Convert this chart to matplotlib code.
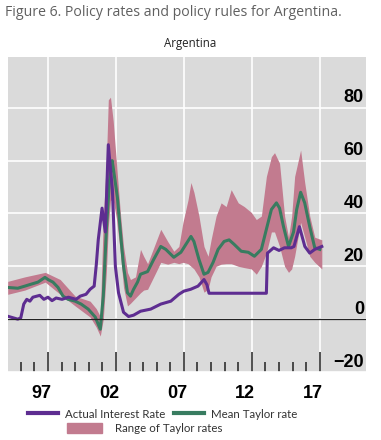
# policy rates vs Taylor rules, Argentina

import numpy as np
import matplotlib.pyplot as plt
import matplotlib.transforms as mtransforms

# actual interest rate (purple)
actual_year = [1994.04, 1994.78, 1995.0, 1995.22, 1995.44, 1995.67, 1995.89, 1996.4, 1996.7,
               1997.0, 1997.3, 1997.6, 1998.04, 1998.5, 1999.07, 1999.37, 1999.8, 2000.1,
               2000.4, 2000.56, 2000.7, 2000.98, 2001.22, 2001.44, 2001.74, 2001.96, 2002.19,
               2002.56, 2002.93, 2003.3, 2003.81, 2004.56, 2005.3, 2006.04, 2006.63, 2007.0,
               2007.5, 2008.04, 2008.48, 2008.7, 2008.85, 2013.07, 2013.15, 2013.6, 2014.0,
               2014.4, 2014.9, 2015.1, 2015.5, 2015.9, 2016.26, 2016.63, 2017.15]
actual_rate = [1.1, 0.0, 0.5, 5.7, 7.5, 6.8, 8.3, 9.0, 7.5,
               8.3, 7.0, 8.0, 7.5, 8.3, 7.5, 8.7, 9.4, 11.3,
               12.5, 20.8, 30.0, 42.0, 33.0, 66.0, 49.0, 20.0, 10.0,
               2.6, 1.0, 1.5, 3.0, 3.8, 5.7, 6.8, 9.4, 10.6,
               11.3, 12.5, 15.0, 13.0, 9.8, 9.8, 25.0, 27.0, 26.0,
               27.0, 27.0, 27.5, 35.0, 27.5, 25.0, 26.4, 27.5]

# mean taylor rate (green)
mean_year = [1994.04, 1994.78, 1995.3, 1995.74, 1996.26, 1996.78, 1997.0, 1997.37, 1997.74,
             1998.11, 1998.48, 1999.0, 1999.44, 1999.96, 2000.48, 2000.85, 2001.07, 2001.3,
             2001.52, 2001.72, 2001.81, 2002.11, 2002.33, 2002.56, 2002.85, 2003.07, 2003.3,
             2003.59, 2003.81, 2004.33, 2004.78, 2005.3, 2005.67, 2006.26, 2006.78, 2007.15,
             2007.52, 2007.74, 2008.11, 2008.48, 2008.78, 2009.15, 2009.52, 2009.96, 2010.33,
             2010.7, 2011.22, 2011.74, 2012.19, 2012.7, 2013.07, 2013.44, 2013.81, 2014.04,
             2014.33, 2014.7, 2015.07, 2015.3, 2015.59, 2015.89, 2016.26, 2016.63, 2017.0]
mean_rate = [12.0, 11.7, 12.5, 13.2, 14.0, 15.8, 15.0, 14.0, 12.0,
             8.7, 7.5, 6.8, 5.7, 3.8, 0.8, -3.8, 8.7, 34.0,
             52.0, 60.0, 57.0, 46.0, 33.0, 20.0, 10.0, 8.7, 11.3,
             14.0, 17.0, 18.0, 22.6, 27.5, 26.4, 23.4, 25.3, 28.3,
             31.3, 29.4, 22.6, 17.0, 17.7, 21.5, 26.4, 29.4, 30.0,
             28.3, 25.7, 25.3, 23.8, 26.4, 34.0, 41.5, 44.0, 42.0,
             35.0, 27.5, 33.0, 41.5, 48.0, 44.0, 35.0, 27.0, 26.4]

# range of taylor rates (pink band)
range_year = [1994.04, 1995.3, 1996.8, 1997.9, 1999.0, 2000.1, 2000.55, 2000.85, 2001.07,
              2001.3, 2001.44, 2001.6, 2001.8, 2002.04, 2002.33, 2002.56, 2002.85, 2003.07,
              2003.44, 2003.81, 2004.04, 2004.33, 2004.78, 2005.3, 2005.81, 2006.26, 2006.63,
              2006.93, 2007.3, 2007.52, 2007.74, 2008.11, 2008.48, 2008.78, 2009.0, 2009.37,
              2009.74, 2010.11, 2010.48, 2011.0, 2011.44, 2011.96, 2012.33, 2012.7, 2013.07,
              2013.44, 2013.67, 2014.04, 2014.41, 2014.7, 2014.93, 2015.15, 2015.59, 2015.89,
              2016.26, 2016.63, 2017.15]
range_high = [14.3, 16.0, 17.7, 15.0, 8.7, 6.8, 4.0, 1.0, 38.0,
              60.0, 83.0, 84.0, 75.0, 59.0, 40.0, 27.5, 17.7, 15.0,
              16.0, 26.4, 23.8, 21.0, 27.0, 34.0, 29.4, 25.7, 27.5,
              36.6, 45.0, 51.7, 48.0, 39.0, 27.5, 23.8, 30.0, 39.0,
              44.0, 42.6, 49.0, 44.0, 42.6, 40.4, 37.7, 39.0, 54.0,
              61.5, 63.0, 59.0, 39.0, 31.0, 39.0, 54.0, 64.0, 51.7,
              39.0, 31.0, 30.0]
range_low = [9.4, 11.0, 14.0, 9.4, 5.0, 0.8, -3.0, -6.4, 0.0,
             18.0, 35.0, 45.0, 45.0, 38.0, 25.0, 12.0, 5.0, 6.0,
             8.0, 10.0, 11.0, 11.3, 16.0, 21.5, 20.8, 21.5, 21.0,
             21.5, 21.0, 20.0, 19.0, 16.0, 10.2, 11.3, 16.0, 20.0,
             20.8, 21.0, 21.0, 20.0, 19.5, 19.0, 17.0, 20.0, 25.0,
             33.0, 33.0, 27.5, 20.0, 17.7, 19.0, 23.8, 36.6, 31.0,
             23.8, 21.5, 19.0]

major_years = [1997, 2002, 2007, 2012, 2017]
major_labels = ['97', '02', '07', '12', '17']
y_ticks = [-20, 0, 20, 40, 60, 80]
y_labels = ['\u221220', '0', '20', '40', '60', '80']

purple = '#5e2d91'
green = '#387c60'
pink = '#c27b8f'

fig = plt.figure(figsize=(3.81, 4.40), dpi=100)
ax = fig.add_axes([8/381, 1 - 372/440, 358/381, 315/440])
ax.set_facecolor('#dadada')
for s in ax.spines.values():
    s.set_visible(False)

ax.fill_between(range_year, range_low, range_high, color=pink, lw=0, zorder=2)
ax.plot(mean_year, mean_rate, color=green, lw=2.2, zorder=3)
ax.plot(actual_year, actual_rate, color=purple, lw=2.2, zorder=4)
ax.axhline(0, color='#222222', lw=0.9, zorder=5)

ax.set_xlim(1994.06, 2020.4)
ax.set_ylim(-20, 99.2)

ax.set_xticks(major_years)
ax.set_xticklabels(major_labels)
ax.set_xticks([y for y in range(1995, 2017) if y not in major_years], minor=True)
ax.tick_params(axis='x', which='major', direction='in', length=14.4, width=1.1,
               color='#222222', pad=9, labelsize=13)
ax.tick_params(axis='x', which='minor', direction='in', length=7.2, width=1.1,
               color='#222222')
for lab in ax.get_xticklabels():
    lab.set_fontweight('bold')
    lab.set_family('Liberation Sans')

ax.yaxis.tick_right()
ax.set_yticks(y_ticks)
ax.set_yticklabels(y_labels)
ax.tick_params(axis='y', length=0, pad=-1.5, labelsize=13)
for lab in ax.get_yticklabels():
    lab.set_fontweight('bold')
    lab.set_family('Liberation Sans')
    lab.set_horizontalalignment('right')

ax.grid(True, color='white', lw=1.2, zorder=1)
ax.set_axisbelow(True)

# labels sit off their gridlines in the original
dx = mtransforms.ScaledTranslation(-7/100, 0, fig.dpi_scale_trans)
for lab in ax.get_xticklabels():
    lab.set_transform(lab.get_transform() + dx)
dy = mtransforms.ScaledTranslation(0, 12/100, fig.dpi_scale_trans)
for lab in ax.get_yticklabels():
    lab.set_transform(lab.get_transform() + dy)

fig.text(5/381, 1 - 13/440, 'Figure 6. Policy rates and policy rules for Argentina.',
         fontsize=10.2, color='#606060', family='Open Sans', va='center')
fig.text(0.5, 1 - 44/440, 'Argentina', fontsize=8.3, color='#222222',
         family='Open Sans', ha='center', va='center')

# legend
h1, = ax.plot([], [], color=purple, lw=3, label='Actual Interest Rate')
h2, = ax.plot([], [], color=green, lw=3, label='Mean Taylor rate')
h3 = ax.fill_between([], [], [], color=pink, label='Range of Taylor rates')
leg1 = fig.legend(handles=[h1, h2], loc='center', bbox_to_anchor=(162.5/381, 1 - 414/440),
                  ncol=2, frameon=False, handlelength=2.6,
                  handletextpad=0.6, columnspacing=0.78, labelcolor='#333333',
                  prop={'family': 'Lato', 'size': 8.3})
leg2 = fig.legend(handles=[h3], loc='center', bbox_to_anchor=(144.5/381, 1 - 428/440),
                  frameon=False, handlelength=3.0, handleheight=0.95,
                  handletextpad=1.13, labelcolor='#333333',
                  prop={'family': 'Lato', 'size': 8.3})

fig.savefig('out.png', dpi=100)
